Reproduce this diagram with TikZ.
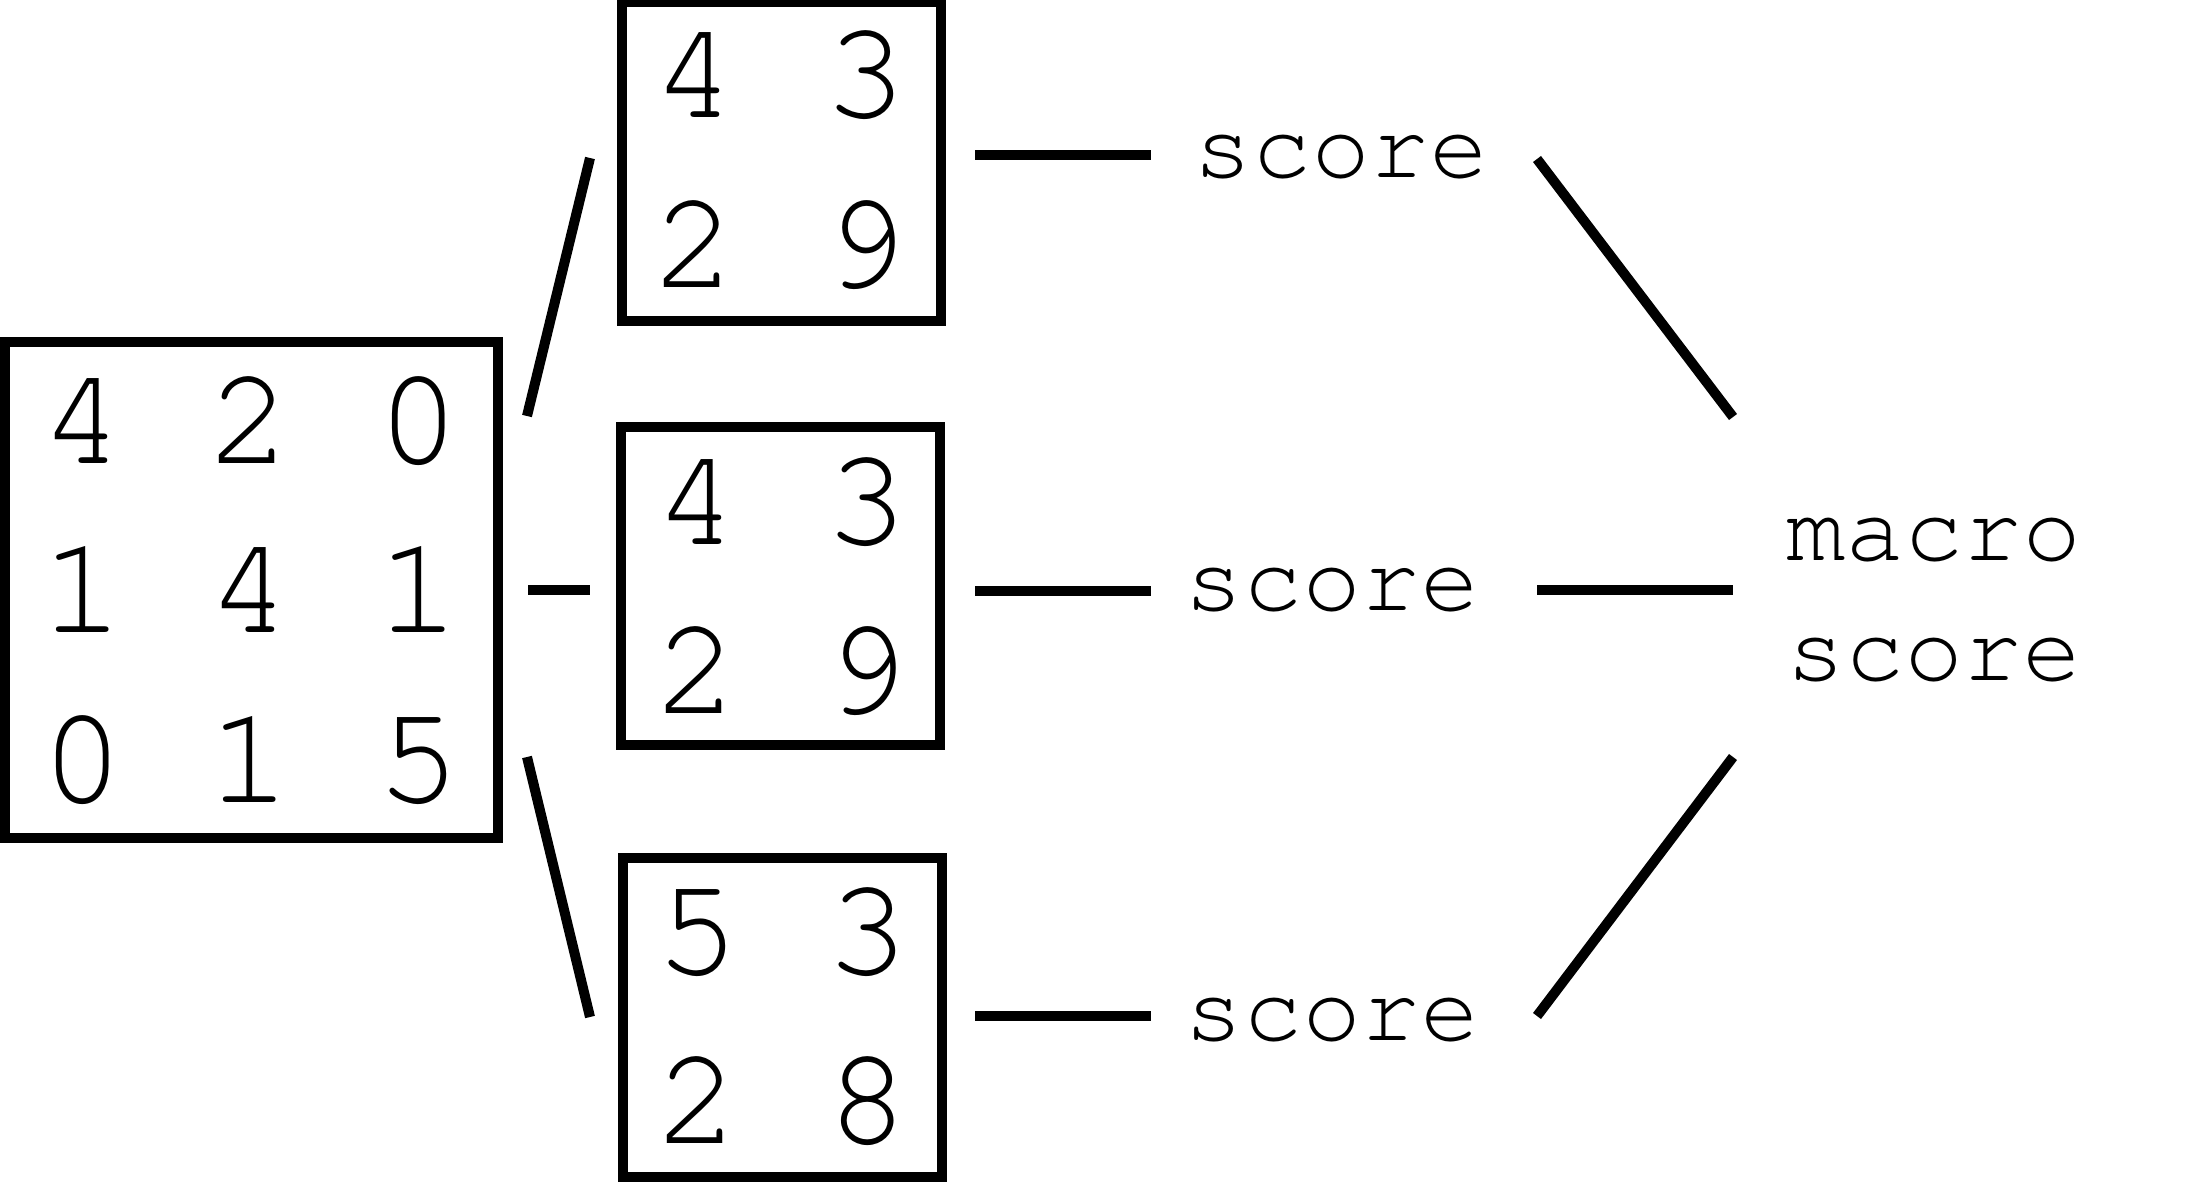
\documentclass[tikz,border=0pt]{standalone}
\usepackage{fontspec}
\newfontfamily\monofont{TeX Gyre Cursor}
\begin{document}
\begin{tikzpicture}[x=0.01cm,y=-0.01cm,
  box/.style={draw, line width=2.845pt, inner sep=0pt, outer sep=0pt,
    minimum width=3.19cm, minimum height=3.18cm},
  bigbox/.style={box, minimum width=4.93cm, minimum height=4.96cm},
  digit/.style={anchor=base, inner sep=0pt, font=\monofont\fontsize{40}{48}\selectfont},
  lbl/.style={anchor=base, inner sep=0pt, font=\monofont\fontsize{28}{34}\selectfont},
  link/.style={line width=2.845pt}]
\useasboundingbox (0,0) rectangle (2207,1182);

% input matrix
\node[bigbox] (big) at (251.5,590) {};
\node[digit] (m11) at (83,463) {4};
\node[digit] (m12) at (250,463) {2};
\node[digit] (m13) at (419,463) {0};
\node[digit] (m21) at (83,632) {1};
\node[digit] (m22) at (250,632) {4};
\node[digit] (m23) at (419,632) {1};
\node[digit] (m31) at (83,802) {0};
\node[digit] (m32) at (250,802) {1};
\node[digit] (m33) at (419,802) {5};

% pooled matrices
\node[box] (ta) at (781.5,161.5) {};
\node[digit] (ta11) at (695,118) {4};
\node[digit] (ta12) at (866,118) {3};
\node[digit] (ta21) at (695,287) {2};
\node[digit] (ta22) at (866,287) {9};

\node[box] (tb) at (780.5,586) {};
\node[digit] (tb11) at (697,544) {4};
\node[digit] (tb12) at (867,544) {3};
\node[digit] (tb21) at (697,713) {2};
\node[digit] (tb22) at (867,713) {9};

\node[box] (tc) at (782.5,1017.5) {};
\node[digit] (tc11) at (698,974) {5};
\node[digit] (tc12) at (868,974) {3};
\node[digit] (tc21) at (698,1143) {2};
\node[digit] (tc22) at (868,1143) {8};

% scores
\node[lbl] (sa) at (1341,178) {score};
\node[lbl] (sb) at (1332,610) {score};
\node[lbl] (sc) at (1332,1040) {score};

\node[lbl] (macro) at (1934,560) {macro};
\node[lbl] (macroscore) at (1934,680) {score};

% connector end points
\coordinate (big-a) at (527,416);  \coordinate (ta-in) at (590,158);
\coordinate (big-b) at (528,590);  \coordinate (tb-in) at (590,590);
\coordinate (big-c) at (527,757);  \coordinate (tc-in) at (590,1017);
\coordinate (ta-out) at (975,155); \coordinate (sa-in) at (1151,155);
\coordinate (tb-out) at (975,591); \coordinate (sb-in) at (1151,591);
\coordinate (tc-out) at (975,1016);\coordinate (sc-in) at (1151,1016);
\coordinate (sa-out) at (1537,159); \coordinate (ma-a) at (1733,417);
\coordinate (sb-out) at (1537,590); \coordinate (ma-b) at (1733,590);
\coordinate (sc-out) at (1537,1016);\coordinate (ma-c) at (1733,757);

\draw[link] (big-a) -- (ta-in);
\draw[link] (big-b) -- (tb-in);
\draw[link] (big-c) -- (tc-in);
\draw[link] (ta-out) -- (sa-in);
\draw[link] (tb-out) -- (sb-in);
\draw[link] (tc-out) -- (sc-in);
\draw[link] (sa-out) -- (ma-a);
\draw[link] (sb-out) -- (ma-b);
\draw[link] (sc-out) -- (ma-c);
\end{tikzpicture}
\end{document}
